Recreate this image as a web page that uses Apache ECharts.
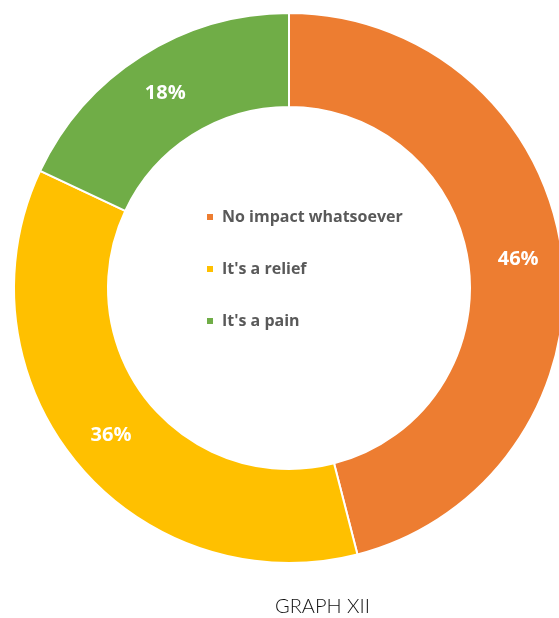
<!DOCTYPE html>
<html>
<head>
<meta charset="utf-8">
<script src="https://cdn.jsdelivr.net/npm/echarts@6/dist/echarts.min.js"></script>
<style>
  html, body { margin: 0; padding: 0; background: #fff; }
  #chart { width: 559px; height: 618px; }
</style>
</head>
<body>
<div id="chart"></div>
<script>
// Survey answers and their shares (percent)
const categories = ['No impact whatsoever', "It's a relief", "It's a pain"];
const shares = [46, 36, 18];
const colors = ['#ED7D31', '#FFC000', '#70AD47'];
const caption = 'GRAPH XII';

const chart = echarts.init(document.getElementById('chart'), null, { renderer: 'canvas' });

chart.setOption({
  animation: false,
  backgroundColor: '#ffffff',
  color: colors,
  legend: {
    orient: 'vertical',
    left: 200,
    top: 204,
    itemWidth: 8,
    itemHeight: 8,
    itemGap: 36,
    icon: 'rect',
    data: categories,
    textStyle: {
      fontFamily: 'Open Sans',
      fontWeight: 'bold',
      fontSize: 16,
      color: '#595959',
      padding: [0, 0, 0, 3]
    }
  },
  graphic: [{
    type: 'text',
    left: 275,
    top: 597,
    style: {
      text: caption,
      fontFamily: 'Lato',
      fontWeight: 300,
      fontSize: 20,
      fill: '#111111'
    }
  }],
  series: [{
    type: 'pie',
    center: [289, 288],
    radius: [181, 275],
    startAngle: 90,
    clockwise: true,
    avoidLabelOverlap: false,
    itemStyle: { borderColor: '#ffffff', borderWidth: 2 },
    label: {
      show: true,
      position: 'inside',
      formatter: '{c}%',
      color: '#ffffff',
      fontFamily: 'Open Sans',
      fontWeight: 'bold',
      fontSize: 20
    },
    labelLine: { show: false },
    emphasis: { disabled: true },
    data: categories.map((name, i) => ({ name, value: shares[i] }))
  }]
});
</script>
</body>
</html>
